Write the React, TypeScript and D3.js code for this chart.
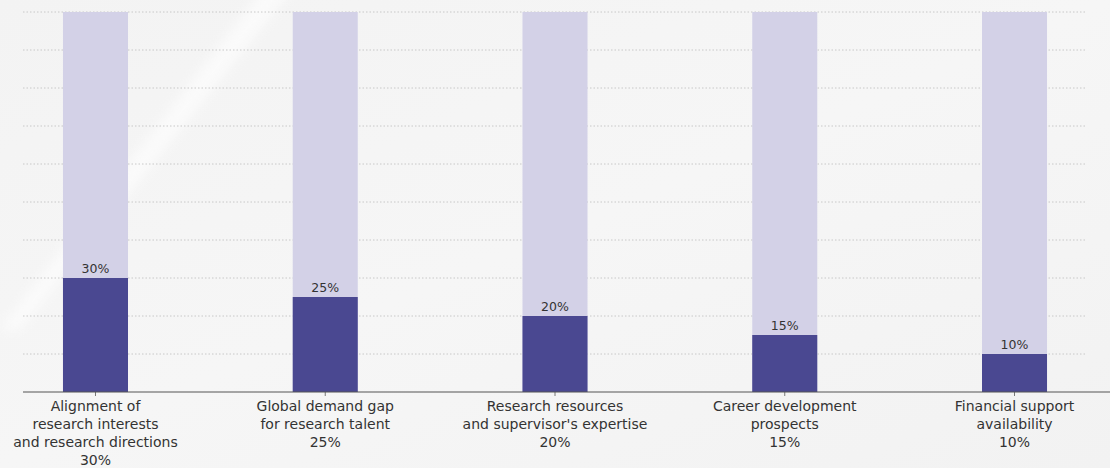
import React from "react";
import * as d3 from "d3";

const categories: string[][] = [
  ["Alignment of", "research interests", "and research directions", "30%"],
  ["Global demand gap", "for research talent", "25%"],
  ["Research resources", "and supervisor's expertise", "20%"],
  ["Career development", "prospects", "15%"],
  ["Financial support", "availability", "10%"],
];
const values: number[] = [30, 25, 20, 15, 10];
const keys: string[] = ["c1", "c2", "c3", "c4", "c5"];
const gridTicks: number[] = [0, 10, 20, 30, 40, 50, 60, 70, 80, 90, 100];

const W = 1110;
const H = 468;

export default function App() {
  const x = d3
    .scaleBand<string>()
    .domain(keys)
    .range([23, 1087])
    .paddingInner(0.717)
    .paddingOuter(0.174);
  const y = d3.scaleLinear().domain([0, 100]).range([392, 12]);
  const font = "'DejaVu Sans', 'Noto Sans', sans-serif";

  return (
    <div style={{ position: "absolute", left: 0, top: 0, width: W, height: H }}>
      <svg width={W} height={H} style={{ display: "block" }}>
        <defs>
          <linearGradient id="bg" x1="0" y1="0" x2="1" y2="1">
            <stop offset="0" stopColor="#f3f3f3" />
            <stop offset="0.5" stopColor="#f6f6f6" />
            <stop offset="1" stopColor="#f2f2f2" />
          </linearGradient>
          <filter id="blur">
            <feGaussianBlur stdDeviation="6" />
          </filter>
        </defs>
        <rect x={0} y={0} width={W} height={H} fill="url(#bg)" />
        <path
          d="M270,-20 L300,-20 L20,330 L0,330 Z"
          fill="#ffffff"
          opacity={0.6}
          filter="url(#blur)"
        />
        {gridTicks.slice(1).map((t) => (
          <line
            key={t}
            x1={23}
            x2={1087}
            y1={y(t)}
            y2={y(t)}
            stroke="#c8c8c8"
            strokeWidth={1}
            strokeDasharray="1.5,2"
          />
        ))}
        {keys.map((k, i) => {
          const bx = x(k) as number;
          const bw = x.bandwidth();
          return (
            <g key={k}>
              <rect x={bx} y={y(100)} width={bw} height={y(0) - y(100)} fill="#d3d1e7" />
              <rect x={bx} y={y(values[i])} width={bw} height={y(0) - y(values[i])} fill="#4a4891" />
              <text
                x={bx + bw / 2}
                y={y(values[i]) - 5}
                textAnchor="middle"
                fontFamily={font}
                fontSize={12.5}
                fill="#333"
              >
                {values[i]}%
              </text>
              <line x1={bx + bw / 2} x2={bx + bw / 2} y1={392} y2={396} stroke="#777" />
              {categories[i].map((ln, j) => (
                <text
                  key={j}
                  x={bx + bw / 2}
                  y={410.5 + j * 18}
                  textAnchor="middle"
                  fontFamily={font}
                  fontSize={14}
                  fill="#333"
                >
                  {ln}
                </text>
              ))}
            </g>
          );
        })}
        <line x1={23} x2={1110} y1={392} y2={392} stroke="#555" strokeWidth={1.2} />
      </svg>
    </div>
  );
}
